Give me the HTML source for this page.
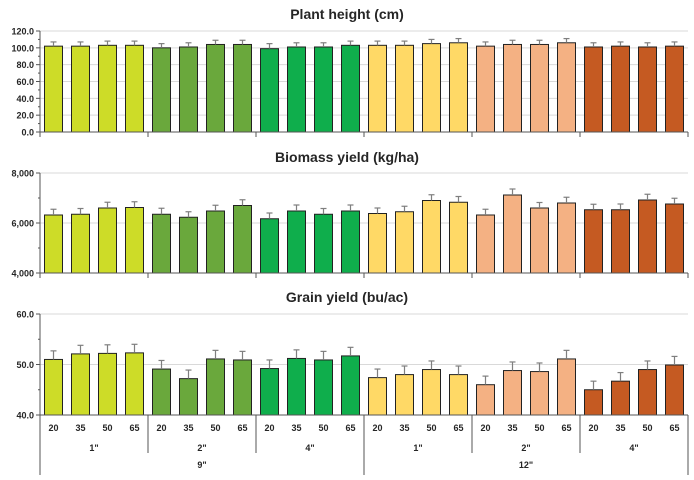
<!DOCTYPE html>
<html><head><meta charset="utf-8"><style>
body{margin:0;background:#fff}
svg text{font-family:"Liberation Sans",sans-serif;font-weight:bold;fill:#262626}
</style></head><body>
<svg id="c" width="694" height="475"></svg>
<script>
const spacing = ["20","35","50","65"];
const depths = ['1"','2"','4"','1"','2"','4"'];
const rows = ['9"','12"'];
const heightVals = [102,102,103,103,100,101,104,104,99,101,101,103,103,103,105,106,102,104,104,106,101,102,101,102];
const heightErr = [5,5,5,5,5,5,5,5,6,5,5,5,5,5,5,5,5,5,5,5,5,5,5,5];
const biomassVals = [6320,6350,6600,6620,6350,6230,6480,6700,6170,6480,6350,6480,6380,6450,6900,6830,6320,7120,6600,6800,6530,6530,6920,6760];
const biomassErr = [230,230,230,230,240,220,230,230,230,240,230,240,220,220,230,230,230,240,220,230,220,230,230,230];
const grainVals = [51,52.1,52.2,52.3,49.1,47.2,51.1,50.9,49.2,51.2,50.9,51.7,47.4,48,49,48,46,48.8,48.6,51.1,45,46.7,49,49.9];
const grainErr = [1.7,1.7,1.7,1.7,1.7,1.7,1.7,1.7,1.7,1.7,1.7,1.7,1.7,1.7,1.7,1.7,1.7,1.7,1.7,1.7,1.7,1.7,1.7,1.7];
const heightTicks = ["0.0","20.0","40.0","60.0","80.0","100.0","120.0"];
const biomassTicks = ["4,000","6,000","8,000"];
const grainTicks = ["40.0","50.0","60.0"];
const colors=["#cddc28","#6aa83c","#0fae4c","#ffd966","#f4b183","#c55a22"];
const svg=document.getElementById('c');const NS="http://www.w3.org/2000/svg";
function mk(t,a,p){const e=document.createElementNS(NS,t);for(const k in a)e.setAttribute(k,a[k]);(p||svg).appendChild(e);return e;}
const X0=40,BW=27;
const xc=i=>X0+BW*(i+0.5);
function panel(name,title,ty,top,bot,min,max,ticks,vals,errs,minor){
  const g=mk('g',{});
  const y=v=>bot-(v-min)/(max-min)*(bot-top);
  const t=mk('text',{x:347,y:ty,'text-anchor':'middle','font-size':14},g);t.textContent=title;
  
  ticks.forEach((s,k)=>{const v=min+(max-min)*k/(ticks.length-1);const yy=y(v);
    if(k>0)mk('line',{x1:X0,x2:688,y1:yy,y2:yy,stroke:'#d9d9d9'},g);
    mk('line',{x1:X0-4,x2:X0,y1:yy,y2:yy,stroke:'#555'},g);
    const tx=mk('text',{x:X0-6,y:yy+3.5,'text-anchor':'end','font-size':9},g);tx.textContent=s;
    
    if(k<ticks.length-1){for(let m=1;m<minor;m++){const ym=yy-(bot-top)/(ticks.length-1)*m/minor;mk('line',{x1:X0-2,x2:X0,y1:ym,y2:ym,stroke:'#555'},g);}}
  });
  vals.forEach((v,i)=>{const yy=y(v);
    const r=mk('rect',{x:xc(i)-9,y:yy,width:18,height:bot-yy,fill:colors[Math.floor(i/4)],stroke:'#222','stroke-width':1},g);
    
    const ye=y(v+errs[i]);
    mk('line',{x1:xc(i),x2:xc(i),y1:yy,y2:ye,stroke:'#7f7f7f','stroke-width':1.2},g);
    mk('line',{x1:xc(i)-3,x2:xc(i)+3,y1:ye,y2:ye,stroke:'#7f7f7f','stroke-width':1.2},g);
  });
  mk('line',{x1:X0,x2:X0,y1:top,y2:bot,stroke:'#555'},g);
  mk('line',{x1:X0,x2:688,y1:bot,y2:bot,stroke:'#555'},g);
  [0,1,2,3,4,5,6].forEach(k=>mk('line',{x1:X0+108*k,x2:X0+108*k,y1:bot,y2:bot+5,stroke:'#555'},g));
}
panel('plant-height','Plant height (cm)',19,31,132,0,120,heightTicks,heightVals,heightErr,2);
panel('biomass','Biomass yield (kg/ha)',162,173,273,4000,8000,biomassTicks,biomassVals,biomassErr,2);
panel('grain','Grain yield (bu/ac)',302,314,415,40,60,grainTicks,grainVals,grainErr,2);
const ax=mk('g',{});
for(let i=0;i<24;i++){const t=mk('text',{x:xc(i),y:431,'text-anchor':'middle','font-size':9},ax);t.textContent=spacing[i%4];
  }
depths.forEach((d,k)=>{const t=mk('text',{x:X0+108*k+54,y:451,'text-anchor':'middle','font-size':9},ax);t.textContent=d;
  });
rows.forEach((d,k)=>{const t=mk('text',{x:X0+324*k+162,y:468,'text-anchor':'middle','font-size':9},ax);t.textContent=d;
  });
[0,1,2,3,4,5,6].forEach(k=>{const big=k%3==0;mk('line',{x1:X0+108*k,x2:X0+108*k,y1:415,y2:big?475:453,stroke:'#555'},ax);});
</script>
</body></html>
